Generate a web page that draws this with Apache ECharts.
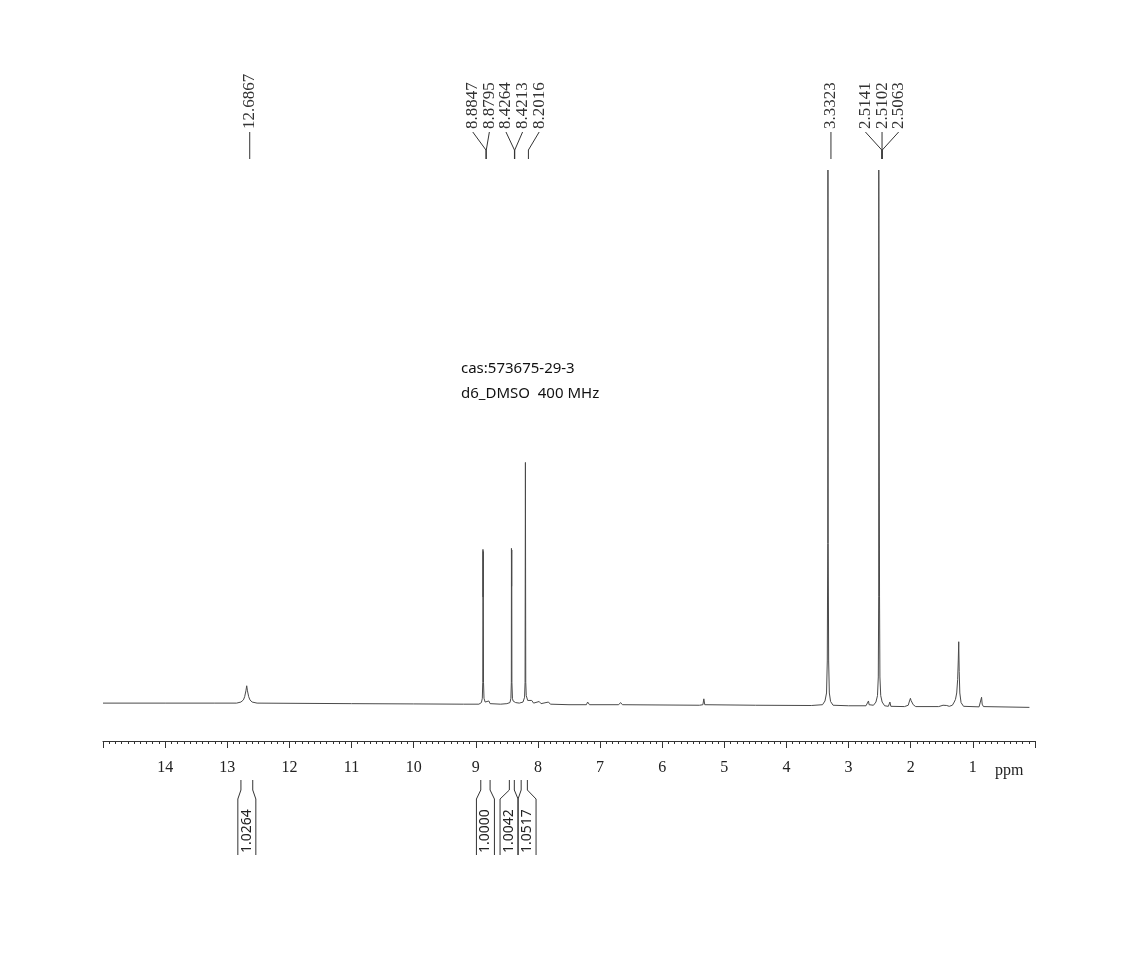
<!DOCTYPE html>
<html>
<head>
<meta charset="utf-8">
<title>1H NMR cas:573675-29-3</title>
<script src="https://cdn.jsdelivr.net/npm/echarts@6/dist/echarts.min.js"></script>
<style>
  html, body { margin: 0; padding: 0; background: #fff; }
  #chart { width: 1147px; height: 953px; }
</style>
</head>
<body>
<div id="chart"></div>
<script>
// 谱图数据 (ppm, 相对强度) —— 从图上读出
const spectrumPoints = [
  [15.0, 0.1], [14.0, 0.1], [13.2, 0.1], [12.85, 0.1], [12.78, 0.3], [12.74, 0.7],
  [12.72, 1.3], [12.70, 2.4], [12.687, 3.35], [12.675, 2.4], [12.655, 1.3],
  [12.635, 0.7], [12.60, 0.3], [12.52, 0.1], [11.0, 0.0], [10.0, -0.05],
  [9.2, -0.1], [8.95, -0.1], [8.91, 0.2], [8.895, 1.0], [8.888, 4], [8.8847, 28.9],
  [8.882, 20], [8.8795, 28.5], [8.876, 4], [8.868, 1.0], [8.85, 0.3], [8.82, 0.1],
  [8.79, 0.5], [8.77, 0.0], [8.6, -0.1], [8.50, 0.0], [8.45, 0.2], [8.435, 1.0],
  [8.428, 4], [8.4264, 29.1], [8.4238, 22], [8.4213, 28.8], [8.419, 4], [8.41, 1.0],
  [8.40, 0.5], [8.38, 0.6], [8.36, 0.2], [8.30, 0.1], [8.24, 0.3], [8.215, 1.2],
  [8.207, 4], [8.2016, 45.2], [8.196, 4], [8.188, 1.5], [8.18, 1.2], [8.165, 0.6],
  [8.14, 0.3], [8.10, 0.6], [8.07, 0.1], [7.98, 0.4], [7.95, 0.0], [7.83, 0.3],
  [7.80, -0.1], [7.5, -0.2], [7.22, -0.2], [7.20, 0.3], [7.17, -0.2], [6.70, -0.2],
  [6.67, 0.2], [6.64, -0.2], [5.40, -0.3], [5.345, -0.2], [5.33, 0.9], [5.315, -0.2],
  [4.5, -0.3], [3.60, -0.35], [3.42, -0.2], [3.38, 0.5], [3.355, 2], [3.343, 8],
  [3.336, 30], [3.3323, 100], [3.328, 30], [3.321, 8], [3.31, 2], [3.29, 0.4],
  [3.25, -0.3], [3.0, -0.4], [2.72, -0.4], [2.69, -0.2], [2.68, 0.5], [2.67, -0.2],
  [2.60, -0.3], [2.56, 0.3], [2.535, 1.5], [2.522, 5], [2.516, 20], [2.5141, 100],
  [2.5102, 100], [2.5063, 100], [2.502, 20], [2.496, 5], [2.483, 1.5], [2.46, 0.3],
  [2.42, -0.4], [2.36, -0.5], [2.335, 0.3], [2.32, -0.5], [2.10, -0.55], [2.04, -0.3],
  [2.025, 0.3], [2.015, 0.6], [2.005, 1.0], [1.995, 0.6], [1.985, 0.8], [1.96, -0.2],
  [1.92, -0.55], [1.55, -0.55], [1.48, -0.3], [1.45, -0.1], [1.42, -0.35], [1.38, -0.5],
  [1.33, -0.3], [1.30, 0.3], [1.28, 0.8], [1.26, 2.0], [1.245, 4.5], [1.235, 8],
  [1.2275, 11.6], [1.22, 6], [1.21, 2], [1.19, 0.2], [1.15, -0.5], [0.90, -0.6],
  [0.87, -0.3], [0.86, 1.2], [0.85, -0.1], [0.83, -0.55], [0.09, -0.7]
];

// 峰位标注
const peakShifts = [12.6867, 8.8847, 8.8795, 8.4264, 8.4213, 8.2016, 3.3323, 2.5141, 2.5102, 2.5063];

// 积分区间
const integralStart = [12.78, 8.92, 8.46, 8.27];
const integralEnd = [12.59, 8.77, 8.38, 8.17];
const integralValues = ['1.0264', '1.0000', '1.0042', '1.0517'];

const chart = echarts.init(document.getElementById('chart'));

// 标签避让：重叠的标签合并成一组，组内等距排开
function spreadLabels(pxs, gap) {
  let groups = pxs.map((p, i) => ({ idx: [i], center: p }));
  let merged = true;
  while (merged) {
    merged = false;
    for (let k = 0; k < groups.length - 1; k++) {
      const a = groups[k], b = groups[k + 1];
      const aRight = a.center + (a.idx.length - 1) * gap / 2;
      const bLeft = b.center - (b.idx.length - 1) * gap / 2;
      if (bLeft - aRight < gap) {
        const idx = a.idx.concat(b.idx);
        const center = idx.reduce((s, i) => s + pxs[i], 0) / idx.length;
        groups.splice(k, 2, { idx, center });
        merged = true;
        break;
      }
    }
  }
  const out = [];
  groups.forEach(g => g.idx.forEach((i, j) => {
    out[i] = g.center + (j - (g.idx.length - 1) / 2) * gap;
  }));
  return out;
}

// 积分框避让
function spreadBoxes(cs, w) {
  const out = cs.slice();
  for (let it = 0; it < 30; it++) {
    for (let i = 1; i < out.length; i++) {
      const d = out[i] - out[i - 1];
      if (d < w) {
        const push = (w - d) / 2;
        out[i - 1] -= push;
        out[i] += push;
      }
    }
  }
  return out;
}

const option = {
  animation: false,
  backgroundColor: '#fff',
  grid: { left: 103, right: 112, top: 170, bottom: 212 },
  xAxis: {
    type: 'value',
    inverse: true,
    min: 0,
    max: 15,
    interval: 1,
    axisLine: { show: true, onZero: false, lineStyle: { color: '#333', width: 1 } },
    axisTick: { show: true, length: 7, lineStyle: { color: '#333' } },
    minorTick: { show: true, splitNumber: 10, length: 3, lineStyle: { color: '#333' } },
    splitLine: { show: false },
    axisLabel: {
      margin: 19,
      fontFamily: 'Liberation Serif',
      fontSize: 16,
      color: '#222',
      formatter: (v) => (v === 0 || v === 15) ? '' : String(v)
    }
  },
  yAxis: {
    type: 'value',
    min: -7,
    max: 100,
    show: false
  },
  graphic: [
    { type: 'text', left: 461, top: 361, style: { text: 'cas:573675-29-3', font: '15px "Noto Sans"', fill: '#111' } },
    { type: 'text', left: 461, top: 386, style: { text: 'd6_DMSO  400 MHz', font: '15px "Noto Sans"', fill: '#111' } },
    { type: 'text', left: 995, top: 763, style: { text: 'ppm', font: '16px "Liberation Serif"', fill: '#222' } }
  ],
  series: [
    {
      // 谱线
      type: 'line',
      data: spectrumPoints,
      showSymbol: false,
      symbol: 'none',
      lineStyle: { color: '#4a4a4a', width: 1 },
      z: 2
    },
    {
      // 峰位标注
      type: 'custom',
      clip: false,
      encode: { x: 0, y: 1 },
      data: peakShifts.map(p => [p, 0]),
      renderItem: function (params, api) {
        const i = params.dataIndex;
        const top = params.coordSys.y;
        const pxs = peakShifts.map(p => api.coord([p, 0])[0] + 3);
        const slots = spreadLabels(pxs, 16.6);
        const lx = slots[i], px = pxs[i];
        const pts = Math.abs(lx - px) < 0.5
          ? [[px, top - 38], [px, top - 11]]
          : [[lx, top - 38], [px, top - 20], [px, top - 11]];
        return {
          type: 'group',
          children: [
            { type: 'polyline', shape: { points: pts }, style: { stroke: '#333', lineWidth: 1, fill: null } },
            {
              type: 'text', x: lx, y: top - 41, rotation: Math.PI / 2,
              style: { text: peakShifts[i].toFixed(4), font: '17px "Liberation Serif"', fill: '#333', align: 'left', verticalAlign: 'middle' }
            }
          ]
        };
      },
      z: 3
    },
    {
      // 积分
      type: 'custom',
      clip: false,
      encode: { x: 0, y: 1 },
      data: integralStart.map((s, i) => [s, 0, integralEnd[i]]),
      renderItem: function (params, api) {
        const i = params.dataIndex;
        const bottom = params.coordSys.y + params.coordSys.height;
        const x1s = integralStart.map(p => api.coord([p, 0])[0]);
        const x2s = integralEnd.map(p => api.coord([p, 0])[0]);
        const centers = spreadBoxes(x1s.map((x, k) => (x + x2s[k]) / 2), 18);
        const w = 18;
        const cx = centers[i], x1 = x1s[i], x2 = x2s[i];
        const style = { stroke: '#333', lineWidth: 1, fill: null };
        return {
          type: 'group',
          children: [
            { type: 'polyline', shape: { points: [[x1, bottom + 39], [x1, bottom + 49], [cx - w / 2, bottom + 58], [cx - w / 2, bottom + 114]] }, style },
            { type: 'polyline', shape: { points: [[x2, bottom + 39], [x2, bottom + 49], [cx + w / 2, bottom + 58], [cx + w / 2, bottom + 114]] }, style },
            {
              type: 'text', x: cx, y: bottom + 112, rotation: Math.PI / 2,
              style: { text: integralValues[i], font: '14px "Noto Sans"', fill: '#222', align: 'left', verticalAlign: 'middle' }
            }
          ]
        };
      },
      z: 3
    }
  ]
};

chart.setOption(option);
</script>
</body>
</html>
